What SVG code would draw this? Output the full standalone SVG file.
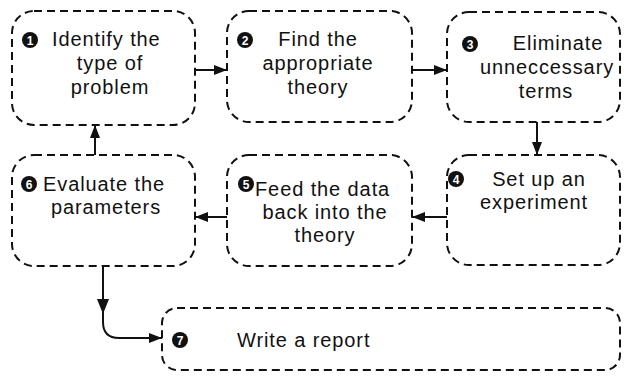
<svg xmlns="http://www.w3.org/2000/svg" width="624" height="377" viewBox="0 0 624 377">
<style>
.box{fill:#fff;stroke:#111;stroke-width:2;stroke-dasharray:8 5}
.t{font-family:"Liberation Sans",Arial,sans-serif;font-size:20px;letter-spacing:0.9px;fill:#111}
.m{text-anchor:middle}
.nc{fill:#111}
.nt{font-family:"Liberation Sans",Arial,sans-serif;font-size:12px;font-weight:bold;fill:#fff;text-anchor:middle}
.ln{fill:none;stroke:#111;stroke-width:2}
</style>
<defs>
<marker id="ah" viewBox="0 0 13 10" refX="13" refY="5" markerWidth="13" markerHeight="10" markerUnits="userSpaceOnUse" orient="auto">
<path d="M0,0 L13,5 L0,10 z" fill="#111"/>
</marker>
</defs>
<rect width="624" height="377" fill="#fff"/>
<g id="connectors">
<line class="ln" x1="195" y1="70" x2="227" y2="70" marker-end="url(#ah)"/>
<line class="ln" x1="412" y1="70" x2="447" y2="70" marker-end="url(#ah)"/>
<line class="ln" x1="537" y1="122" x2="537" y2="155" marker-end="url(#ah)"/>
<line class="ln" x1="447" y1="217" x2="412" y2="217" marker-end="url(#ah)"/>
<line class="ln" x1="227" y1="217" x2="195" y2="217" marker-end="url(#ah)"/>
<line class="ln" x1="95" y1="155" x2="95" y2="125" marker-end="url(#ah)"/>
<path class="ln" d="M103,266 V322 Q103,338 119,338 H162" marker-end="url(#ah)"/>
<path d="M97,299 L109,299 L103,314 z" fill="#111"/>
</g>
<g id="n1">
<rect class="box" x="12" y="11" width="183" height="114" rx="22"/>
<circle class="nc" cx="30" cy="40" r="8"/><text class="nt" x="30" y="44.5">1</text>
<text class="t" x="52" y="46">Identify the</text>
<text class="t m" x="110" y="70">type of</text>
<text class="t m" x="110" y="94">problem</text>
</g>
<g id="n2">
<rect class="box" x="227" y="11" width="185" height="111" rx="22"/>
<circle class="nc" cx="245" cy="40" r="8"/><text class="nt" x="245" y="44.5">2</text>
<text class="t m" x="318" y="46">Find the</text>
<text class="t m" x="318" y="70">appropriate</text>
<text class="t m" x="318" y="94">theory</text>
</g>
<g id="n3">
<rect class="box" x="447" y="12" width="173" height="110" rx="22"/>
<circle class="nc" cx="470" cy="44" r="8"/><text class="nt" x="470" y="48.5">3</text>
<text class="t m" x="558" y="50">Eliminate</text>
<text class="t m" x="547" y="74">unneccessary</text>
<text class="t m" x="546" y="98">terms</text>
</g>
<g id="n4">
<rect class="box" x="447" y="155" width="173" height="110" rx="22"/>
<circle class="nc" cx="456" cy="179" r="8"/><text class="nt" x="456" y="183.5">4</text>
<text class="t m" x="539" y="186">Set up an</text>
<text class="t m" x="534" y="209">experiment</text>
</g>
<g id="n5">
<rect class="box" x="227" y="155" width="185" height="111" rx="22"/>
<circle class="nc" cx="246" cy="184" r="8"/><text class="nt" x="246" y="188.5">5</text>
<text class="t" x="255" y="196">Feed the data</text>
<text class="t m" x="325" y="219">back into the</text>
<text class="t m" x="325" y="242">theory</text>
</g>
<g id="n6">
<rect class="box" x="12" y="155" width="183" height="111" rx="22"/>
<circle class="nc" cx="29" cy="184" r="8"/><text class="nt" x="29" y="188.5">6</text>
<text class="t" x="43" y="191">Evaluate the</text>
<text class="t m" x="106" y="214">parameters</text>
</g>
<g id="n7">
<rect class="box" x="162" y="308" width="458" height="62" rx="15"/>
<circle class="nc" cx="180" cy="340" r="8"/><text class="nt" x="180" y="344.5">7</text>
<text class="t" x="237" y="347">Write a report</text>
</g>
</svg>
